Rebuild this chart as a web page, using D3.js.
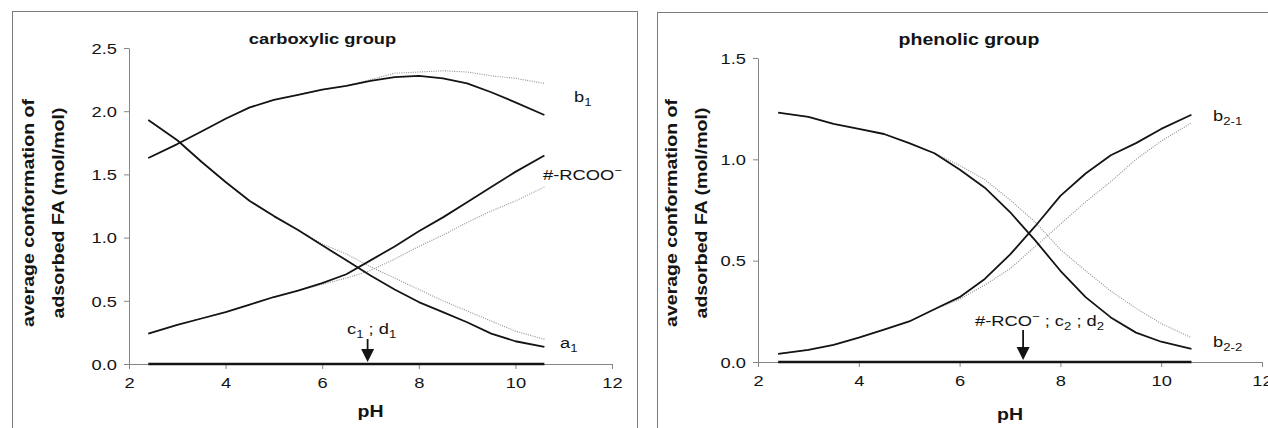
<!DOCTYPE html>
<html>
<head>
<meta charset="utf-8">
<script src="https://cdn.jsdelivr.net/npm/d3@7"></script>
<style>
  html, body { margin: 0; padding: 0; background: #fff; }
  svg { display: block; }
</style>
</head>
<body>
<svg id="chart" width="1268" height="428"></svg>
<script>
// pH values at which the model curves were evaluated
const pHGrid = [2.4, 3, 3.5, 4, 4.5, 5, 5.5, 6, 6.5, 7, 7.5, 8, 8.5, 9, 9.5, 10, 10.6];
const zeroPH = [2.4, 10.6];

// carboxylic group: average conformation of adsorbed FA (mol/mol)
const carbB1      = [1.63, 1.74, 1.84, 1.94, 2.03, 2.09, 2.13, 2.17, 2.20, 2.24, 2.27, 2.28, 2.26, 2.22, 2.15, 2.07, 1.97];
const carbB1Dot   = [1.63, 1.74, 1.84, 1.94, 2.03, 2.09, 2.13, 2.17, 2.20, 2.25, 2.30, 2.31, 2.32, 2.31, 2.28, 2.26, 2.22];
const carbA1      = [1.93, 1.77, 1.60, 1.44, 1.29, 1.17, 1.06, 0.94, 0.82, 0.70, 0.59, 0.49, 0.41, 0.33, 0.24, 0.18, 0.135];
const carbA1Dot   = [1.93, 1.77, 1.60, 1.44, 1.29, 1.17, 1.06, 0.95, 0.87, 0.77, 0.68, 0.59, 0.50, 0.42, 0.34, 0.26, 0.195];
const carbRcoo    = [0.24, 0.31, 0.36, 0.41, 0.47, 0.53, 0.58, 0.64, 0.71, 0.82, 0.93, 1.05, 1.16, 1.28, 1.40, 1.52, 1.65];
const carbRcooDot = [0.24, 0.31, 0.36, 0.41, 0.47, 0.53, 0.58, 0.63, 0.68, 0.74, 0.83, 0.93, 1.02, 1.12, 1.21, 1.29, 1.40];
const carbC1D1    = [0, 0];

// phenolic group
const phenB21     = [0.04, 0.06, 0.085, 0.12, 0.16, 0.20, 0.26, 0.32, 0.41, 0.53, 0.67, 0.82, 0.93, 1.02, 1.08, 1.15, 1.22];
const phenB21Dot  = [0.04, 0.06, 0.085, 0.12, 0.16, 0.20, 0.26, 0.31, 0.38, 0.46, 0.57, 0.68, 0.79, 0.89, 1.00, 1.09, 1.18];
const phenB22     = [1.23, 1.21, 1.175, 1.15, 1.125, 1.08, 1.03, 0.95, 0.86, 0.74, 0.60, 0.45, 0.32, 0.22, 0.145, 0.10, 0.065];
const phenB22Dot  = [1.23, 1.21, 1.175, 1.15, 1.125, 1.08, 1.03, 0.97, 0.90, 0.80, 0.69, 0.555, 0.45, 0.35, 0.265, 0.19, 0.12];
const phenC2D2    = [0, 0];

// axis ticks
const xTicks = [2, 4, 6, 8, 10, 12];
const carbYTicks = [0, 0.5, 1, 1.5, 2, 2.5];
const phenYTicks = [0, 0.5, 1, 1.5];

// pH marked by the arrows (carboxylic, phenolic)
const arrowPH = [6.94, 7.26];

const svg = d3.select('#chart');
svg.append('rect').attr('width', 1268).attr('height', 428).attr('fill', '#fff');

const FONT = "'Liberation Sans', Arial, Helvetica, sans-serif";
const SX = 1.22;          // horizontal stretch of the lettering
const INK = '#141414';
const AXIS = '#858585';

// text made of plain / sub / sup parts
function richText(g, x, y, parts, size, opts = {}) {
  const t = g.append('text')
    .attr('transform', `translate(${x},${y}) scale(${opts.sx || SX},1)`)
    .attr('font-family', FONT)
    .attr('font-size', size)
    .attr('font-weight', opts.bold ? 'bold' : null)
    .attr('text-anchor', opts.anchor || 'start')
    .attr('fill', INK);
  let shift = 0;
  parts.forEach(([str, kind]) => {
    const target = kind === 'sub' ? 4 : kind === 'sup' ? -6 : 0;
    t.append('tspan')
      .attr('dy', target - shift)
      .attr('font-size', kind ? size * 0.72 : size)
      .text(str);
    shift = target;
  });
  return t;
}

function drawPanel(cfg) {
  const x = d3.scaleLinear().domain([2, 12]).range(cfg.xr);
  const y = d3.scaleLinear().domain([0, cfg.ymax]).range(cfg.yr);
  const g = svg.append('g');

  // panel frame
  g.append('rect')
    .attr('x', cfg.frame[0]).attr('y', cfg.frame[1])
    .attr('width', cfg.frame[2]).attr('height', cfg.frame[3])
    .attr('fill', 'none').attr('stroke', '#7c7c7c').attr('stroke-width', 1);

  // axes
  const xa = g.append('g').attr('transform', `translate(0,${cfg.yr[0]})`)
    .call(d3.axisBottom(x).tickValues(xTicks).tickSize(5).tickSizeOuter(0).tickFormat(d3.format('d')));
  const ya = g.append('g').attr('transform', `translate(${cfg.xr[0]},0)`)
    .call(d3.axisLeft(y).tickValues(cfg.yTicks).tickSize(5).tickSizeOuter(0).tickFormat(d3.format('.1f')));
  [xa, ya].forEach(a => {
    a.select('.domain').attr('stroke', AXIS).attr('stroke-width', 1);
    a.selectAll('.tick line').attr('stroke', AXIS);
    a.selectAll('.tick text').attr('font-family', FONT).attr('font-size', 15).attr('fill', INK);
  });
  xa.selectAll('.tick text').attr('y', 0).attr('dy', 0)
    .attr('transform', `translate(0,24) scale(${SX},1)`);
  ya.selectAll('.tick text').attr('x', 0).attr('dy', 0)
    .attr('transform', `translate(-12,5.3) scale(${SX},1)`);

  // curves: dotted first, solid on top
  const line = d3.line().x(d => x(d[0])).y(d => y(d[1])).curve(d3.curveLinear);
  cfg.series.filter(s => s.dot).forEach(s => {
    g.append('path').datum(d3.zip(s.ph, s.v)).attr('d', line)
      .attr('fill', 'none').attr('stroke', '#8e8e8e').attr('stroke-width', 1.1)
      .attr('stroke-dasharray', '1,1.3');
  });
  cfg.series.filter(s => !s.dot).forEach(s => {
    g.append('path').datum(d3.zip(s.ph, s.v)).attr('d', line)
      .attr('fill', 'none').attr('stroke', INK).attr('stroke-width', s.w || 1.8)
      .attr('stroke-linejoin', 'round');
  });

  // arrow pointing at the zero line
  const ax = x(cfg.arrow), y0 = y(0);
  g.append('line').attr('x1', ax).attr('x2', ax)
    .attr('y1', y0 - cfg.arrowLen).attr('y2', y0 - 14)
    .attr('stroke', INK).attr('stroke-width', 1.8);
  g.append('path')
    .attr('d', `M${ax - 6.5},${y0 - 15} L${ax + 6.5},${y0 - 15} L${ax},${y0 - 2} Z`)
    .attr('fill', INK);

  // titles
  richText(g, cfg.title[1], cfg.title[2], [[cfg.title[0]]], cfg.title[3], { bold: true, anchor: 'middle' });
  richText(g, (cfg.xr[0] + cfg.xr[1]) / 2, cfg.phY, [['pH']], 16, { bold: true, anchor: 'middle' });
  cfg.yTitle.forEach(([str, bx]) => {
    g.append('text')
      .attr('transform', `translate(${bx},213) rotate(-90) scale(1.15,1)`)
      .attr('font-family', FONT).attr('font-size', 17).attr('font-weight', 'bold')
      .attr('text-anchor', 'middle').attr('fill', INK)
      .text(str);
  });

  // curve labels
  cfg.labels.forEach(([lx, ly, parts]) => richText(g, lx, ly, parts, 15));
}

drawPanel({
  xr: [129, 612], yr: [364, 48], ymax: 2.5, yTicks: carbYTicks,
  frame: [12.5, 11.5, 625, 440],
  title: ['carboxylic group', 322.5, 44, 15],
  phY: 417,
  yTitle: [['average conformation of', 34], ['adsorbed FA (mol/mol)', 64]],
  arrow: arrowPH[0], arrowLen: 25,
  series: [
    { ph: pHGrid, v: carbB1Dot, dot: true },
    { ph: pHGrid, v: carbA1Dot, dot: true },
    { ph: pHGrid, v: carbRcooDot, dot: true },
    { ph: pHGrid, v: carbB1 },
    { ph: pHGrid, v: carbA1 },
    { ph: pHGrid, v: carbRcoo },
    { ph: zeroPH, v: carbC1D1, w: 2.6 }
  ],
  labels: [
    [574, 102, [['b'], ['1', 'sub']]],
    [543, 180, [['#-RCOO'], ['\u2212', 'sup']]],
    [560, 348, [['a'], ['1', 'sub']]],
    [347, 334, [['c'], ['1', 'sub'], [' ; d'], ['1', 'sub']]]
  ]
});

drawPanel({
  xr: [758, 1262], yr: [362, 58], ymax: 1.5, yTicks: phenYTicks,
  frame: [657.5, 12.5, 700, 440],
  title: ['phenolic group', 969, 45, 16],
  phY: 420,
  yTitle: [['average conformation of', 676.5], ['adsorbed FA (mol/mol)', 707]],
  arrow: arrowPH[1], arrowLen: 32,
  series: [
    { ph: pHGrid, v: phenB21Dot, dot: true },
    { ph: pHGrid, v: phenB22Dot, dot: true },
    { ph: pHGrid, v: phenB21 },
    { ph: pHGrid, v: phenB22 },
    { ph: zeroPH, v: phenC2D2, w: 2.6 }
  ],
  labels: [
    [1213, 121, [['b'], ['2-1', 'sub']]],
    [1213, 347, [['b'], ['2-2', 'sub']]],
    [975, 326, [['#-RCO'], ['\u2212', 'sup'], [' ; c'], ['2', 'sub'], [' ; d'], ['2', 'sub']]]
  ]
});
</script>
</body>
</html>
